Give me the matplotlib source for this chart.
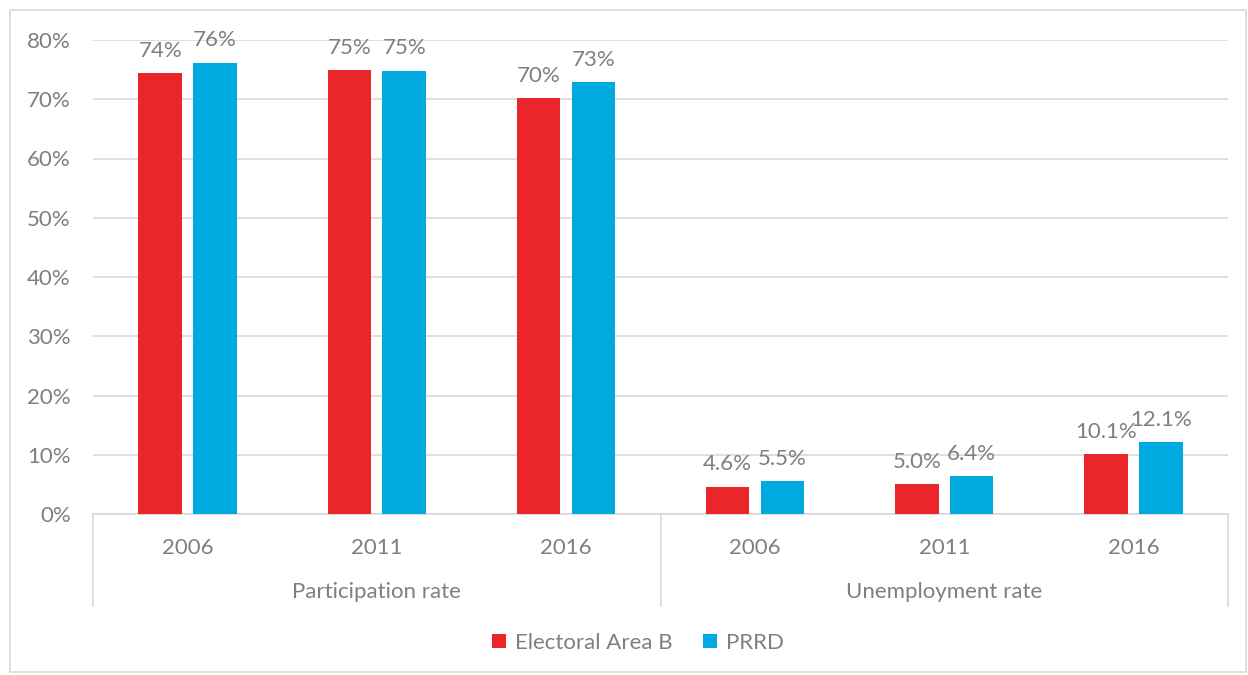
import numpy as np
import matplotlib.pyplot as plt
from matplotlib.patches import Rectangle
from matplotlib.ticker import FuncFormatter

# data
groups = ['Participation rate', 'Unemployment rate']
years = ['2006', '2011', '2016']
series_names = ['Electoral Area B', 'PRRD']
area_b = [74.4, 74.9, 70.2, 4.6, 5.0, 10.1]
prrd = [76.2, 74.8, 72.9, 5.5, 6.4, 12.1]
label_fmt = ['%.0f%%'] * 3 + ['%.1f%%'] * 3

colors = ['#EB262A', '#00A9E0']
text_gray = '#7F7F7F'
grid_gray = '#D9D9D9'
fs = 16

plt.rcParams['font.family'] = ['Lato', 'DejaVu Sans']

fig = plt.figure(figsize=(12.48, 6.75), dpi=100)
fig.patches.append(Rectangle((10 / 1248, 3 / 675), 1236 / 1248, 662 / 675,
                             transform=fig.transFigure, fill=False,
                             edgecolor=grid_gray, lw=1.2))
ax = fig.add_axes([93 / 1248, 161 / 675, 1135 / 1248, 474 / 675])

x = np.arange(len(area_b))
width = 0.23
offset = 0.145
for vals, name, color, sign in zip([area_b, prrd], series_names, colors, [-1, 1]):
    bars = ax.bar(x + sign * offset, vals, width, color=color, label=name, zorder=3)
    for b, v, fmt in zip(bars, vals, label_fmt):
        ax.annotate(fmt % v, (b.get_x() + b.get_width() / 2, v),
                    xytext=(0, 9), textcoords='offset points',
                    ha='center', va='bottom', fontsize=fs, color=text_gray,
                    annotation_clip=False)

ax.set_xlim(-0.5, len(x) - 0.5)
ax.set_ylim(0, 80)
ax.set_yticks(np.arange(0, 81, 10))
ax.yaxis.set_major_formatter(FuncFormatter(lambda v, p: '%d%%' % v))
ax.grid(axis='y', color=grid_gray, lw=1.2, zorder=0)
ax.tick_params(axis='y', length=0, pad=16, labelsize=fs, labelcolor=text_gray)
for s in ['top', 'right', 'left']:
    ax.spines[s].set_visible(False)
ax.spines['bottom'].set_color(grid_gray)
ax.spines['bottom'].set_linewidth(1.2)

# two-level category axis
ax.set_xticks(x)
ax.set_xticklabels(years * 2)
ax.tick_params(axis='x', length=0, pad=17, labelsize=fs, labelcolor=text_gray)
xt = ax.get_xaxis_transform()
for i, g in enumerate(groups):
    ax.text(i * 3 + 1, -0.165, g, transform=xt, ha='center', va='center',
            fontsize=fs, color=text_gray)
for xs in [-0.5, 2.5, 5.5]:
    ax.plot([xs, xs], [0, -0.194], transform=xt, color=grid_gray, lw=1.2,
            clip_on=False)

fig.legend(loc='center', bbox_to_anchor=(638 / 1248, 32 / 675), ncol=2,
           frameon=False, fontsize=fs, labelcolor=text_gray,
           handlelength=0.6, handleheight=0.6, handletextpad=0.4,
           columnspacing=1.4)

fig.savefig('out.png', dpi=100)
